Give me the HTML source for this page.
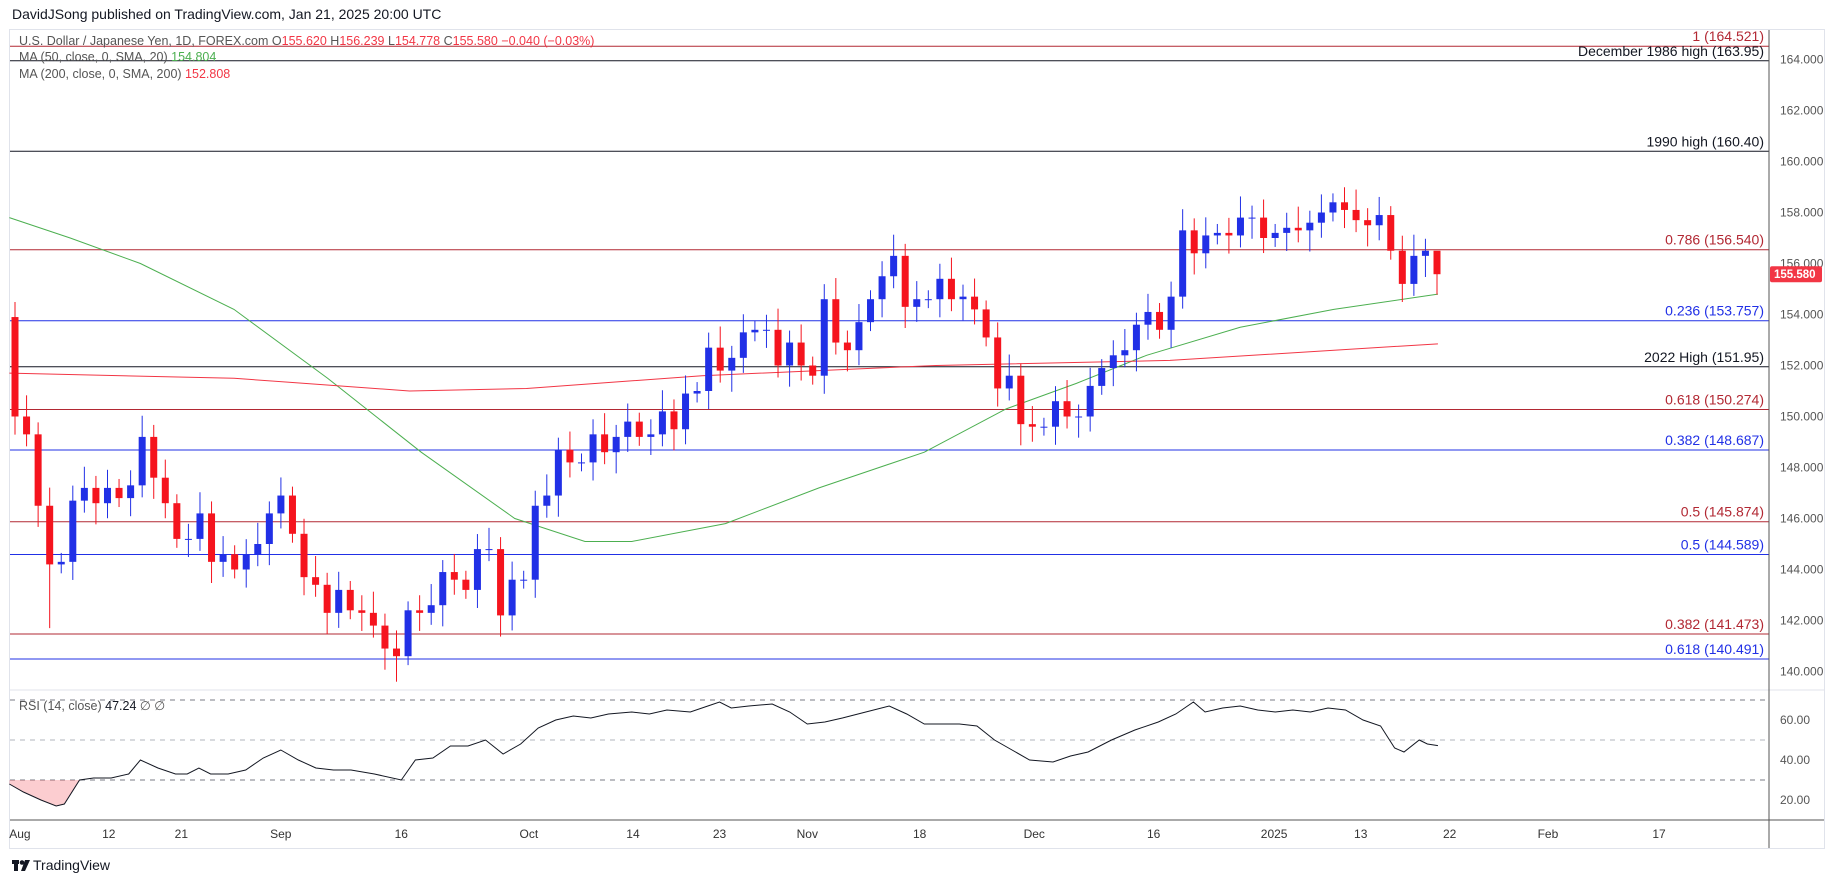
<!DOCTYPE html>
<html><head><meta charset="utf-8"><style>
body{margin:0;background:#fff;width:1835px;height:883px;overflow:hidden;font-family:"Liberation Sans",sans-serif}
svg text{font-family:"Liberation Sans",sans-serif}
</style></head><body>
<svg id="s" width="1835" height="883" xmlns="http://www.w3.org/2000/svg">
<rect x="0" y="0" width="1835" height="883" fill="#fff"/>
<text x="12" y="19" font-size="14" fill="#131722">DavidJSong published on TradingView.com, Jan 21, 2025 20:00 UTC</text>
<rect x="9.5" y="29.5" width="1815" height="819" fill="#fff" stroke="#e0e3eb"/>
<g id="levels"></g>
<g id="ma"></g>
<g id="candles"></g>
<line x1="10" y1="690" x2="1824" y2="690" stroke="#e0e3eb"/>
<g id="rsi"></g>
<line x1="10" y1="820" x2="1824" y2="820" stroke="#555"/>
<line x1="1769" y1="30" x2="1769" y2="848" stroke="#555"/>
<g id="axis" font-size="12" fill="#555"></g>
<g id="time" font-size="12" fill="#333"></g>
<text x="19" y="45" font-size="12.5" fill="#555">U.S. Dollar / Japanese Yen, 1D, FOREX.com <tspan fill="#555">O</tspan><tspan fill="#f23645">155.620</tspan> H<tspan fill="#f23645">156.239</tspan> L<tspan fill="#f23645">154.778</tspan> C<tspan fill="#f23645">155.580</tspan> <tspan fill="#f23645">−0.040 (−0.03%)</tspan></text>
<text x="19" y="61" font-size="12.5" fill="#555">MA (50, close, 0, SMA, 20) <tspan fill="#4caf50">154.804</tspan></text>
<text x="19" y="78" font-size="12.5" fill="#555">MA (200, close, 0, SMA, 200) <tspan fill="#f23645">152.808</tspan></text>
<text x="19" y="710" font-size="12.5" fill="#555">RSI (14, close) <tspan fill="#131722">47.24</tspan> ∅ ∅</text>
<g transform="translate(12,860)"><rect x="0" y="0" width="7" height="4" fill="#131722"/><rect x="2" y="0" width="4" height="11" fill="#131722"/><circle cx="10" cy="2.5" r="2.3" fill="#131722"/><polygon points="13,0 18,0 13,11 9,11" fill="#131722"/></g>
<text x="33" y="870" font-size="14" fill="#131722">TradingView</text>
</svg>
<script>
const NS="http://www.w3.org/2000/svg";
function el(p,t,a,txt){const e=document.createElementNS(NS,t);for(const k in a)e.setAttribute(k,a[k]);if(txt!=null)e.textContent=txt;document.getElementById(p).appendChild(e);return e;}
const Y=p=>671.5-(p-140)*25.5;
const RY=v=>700+(70-v)*2;
const L=[[164.521,"#b22833","1 (164.521)"],[163.95,"#131722","December 1986 high (163.95)"],[160.40,"#131722","1990 high (160.40)"],[156.540,"#b22833","0.786 (156.540)"],[153.757,"#2130e6","0.236 (153.757)"],[151.95,"#131722","2022 High (151.95)"],[150.274,"#b22833","0.618 (150.274)"],[148.687,"#2130e6","0.382 (148.687)"],[145.874,"#b22833","0.5 (145.874)"],[144.589,"#2130e6","0.5 (144.589)"],[141.473,"#b22833","0.382 (141.473)"],[140.491,"#2130e6","0.618 (140.491)"]];
L.forEach(l=>{const y=Y(l[0]);el("levels","line",{x1:10,x2:1769,y1:y,y2:y,stroke:l[1],"stroke-width":1});el("levels","text",{x:1764,y:y-5,"text-anchor":"end","font-size":14,fill:l[1]},l[2]);});
for(let p=140;p<=164;p+=2){el("axis","text",{x:1780,y:Y(p)+4},p.toFixed(3));}
[[60,720],[40,760],[20,800]].forEach(a=>el("axis","text",{x:1780,y:a[1]+4},a[0].toFixed(2)));
el("axis","rect",{x:1770,y:Y(155.58)-8,width:52,height:16,fill:"#f23645",rx:2});
el("axis","text",{x:1774,y:Y(155.58)+4,fill:"#fff","font-size":11.5,"font-weight":"bold"},"155.580");
[["Aug",17],["12",93],["21",155],["Sep",240],["16",343],["Oct",452],["14",541],["23",615],["Nov",690],["18",786],["Dec",884],["16",986],["2025",1089],["13",1163],["22",1239],["Feb",1323],["17",1418]].forEach(t=>{el("time","text",{x:t[1]*1.17,y:838,"text-anchor":"middle"},t[0]);});
const C=[153.9,150.0,149.3,146.5,144.2,144.3,146.7,147.2,146.6,147.2,146.8,147.3,149.2,147.6,146.6,145.2,145.2,146.2,144.3,144.6,144.0,144.6,145.0,146.2,146.9,145.4,143.7,143.4,142.3,143.2,142.4,142.3,141.8,140.9,140.6,142.4,142.3,142.6,143.9,143.6,143.2,144.8,144.8,142.2,143.6,143.6,146.5,146.9,148.7,148.2,148.2,149.3,148.6,149.2,149.8,149.2,149.3,150.2,149.5,150.9,151.0,152.7,151.8,152.3,153.3,153.4,153.4,152.0,152.9,152.0,151.6,154.6,152.9,152.6,153.7,154.6,155.5,156.3,154.3,154.6,154.6,155.4,154.6,154.7,154.2,153.1,151.1,151.6,149.7,149.6,149.6,150.6,150.0,150.0,151.2,151.9,152.4,152.6,153.6,154.1,153.4,154.7,157.3,156.4,157.1,157.2,157.1,157.8,157.8,157.0,157.2,157.4,157.3,157.6,158.0,158.4,158.1,157.7,157.5,157.9,156.5,155.2,156.3,156.5,155.58];
const n=C.length-1, x0=15, x1=1437, dx=(x1-x0)/(n-1);
const special={4:[141.7,null],34:[139.6,null],117:[null,158.9]};
for(let i=1;i<=n;i++){const o=C[i-1],c=C[i];const x=x0+(i-1)*dx;
 let hi=Math.max(o,c)+0.35+((i*7)%5)*0.12, lo=Math.min(o,c)-0.35-((i*3)%5)*0.12;
 if(special[i]){if(special[i][0])lo=special[i][0];if(special[i][1])hi=special[i][1];}
 if(i===n){hi=156.239;lo=154.778;}
 const col=c>=o?"#2130e6":"#f5141e";
 el("candles","line",{x1:x,x2:x,y1:Y(hi),y2:Y(lo),stroke:col,"stroke-width":1});
 const t=Y(Math.max(o,c)),b=Y(Math.min(o,c));
 el("candles","rect",{x:x-3.5,y:t,width:7,height:Math.max(1,b-t),fill:col});
}
function pl(pts,col){el("ma","polyline",{points:pts.map(p=>(p[0]*1.17)+","+Y(p[1])).join(" "),fill:"none",stroke:col,"stroke-width":1});}
pl([[8,157.8],[60,157.0],[120,156.0],[200,154.2],[280,151.5],[360,148.6],[440,146.0],[500,145.1],[540,145.1],[620,145.8],[700,147.2],[790,148.6],[860,150.3],[920,151.3],[980,152.4],[1060,153.5],[1140,154.2],[1229,154.8]],"#4caf50");
pl([[8,151.7],[200,151.5],[350,151.0],[450,151.1],[600,151.6],[800,152.0],[1000,152.2],[1229,152.85]],"#f23645");
[[70,"#787b86"],[50,"#b2b5be"],[30,"#787b86"]].forEach(d=>el("rsi","line",{x1:10,x2:1769,y1:RY(d[0]),y2:RY(d[0]),stroke:d[1],"stroke-dasharray":"5,5"}));
const R=[[8,28],[20,24],[35,20],[48,17],[55,18],[68,30],[80,31],[95,31],[110,33],[120,40],[135,36],[150,33],[160,33],[170,36],[180,33],[195,33],[210,35],[225,41],[240,45],[255,40],[270,36],[285,35],[300,35],[320,33],[343,30],[355,40],[370,41],[385,47],[400,47],[415,50],[430,43],[445,48],[460,56],[475,60],[490,62],[505,61],[520,63],[540,64],[555,63],[570,65],[590,64],[605,67],[615,69],[625,66],[640,67],[660,68],[675,64],[690,58],[705,59],[720,61],[740,64],[760,67],[775,63],[790,58],[805,58],[820,58],[835,57],[850,50],[865,45],[880,40],[900,39],[915,42],[930,44],[950,50],[970,55],[990,59],[1005,63],[1020,69],[1030,64],[1045,66],[1060,67],[1075,65],[1090,64],[1105,65],[1120,64],[1135,66],[1150,65],[1165,60],[1180,57],[1192,46],[1200,44],[1213,50],[1220,48],[1229,47.2]];
const rx=x=>x*1.17;
let fp=R.filter(p=>p[0]<=68).map(p=>rx(p[0])+","+RY(p[1]));
el("rsi","polygon",{points:rx(8)+","+RY(30)+" "+fp.join(" "),fill:"rgba(242,54,69,0.25)"});
el("rsi","polyline",{points:R.map(p=>rx(p[0])+","+RY(p[1])).join(" "),fill:"none",stroke:"#131722","stroke-width":1});
</script>
</body></html>
